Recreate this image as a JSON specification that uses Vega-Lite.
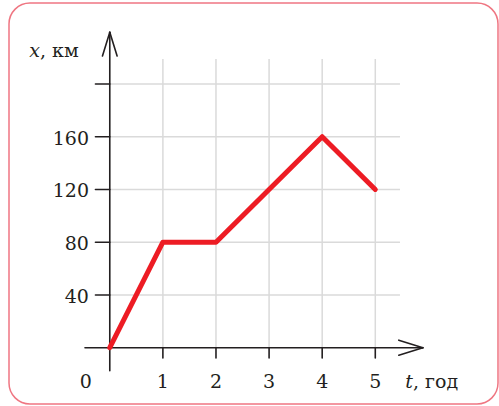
{
  "$schema": "https://vega.github.io/schema/vega-lite/v6.json",
  "width": 499,
  "height": 406,
  "autosize": {"type": "fit", "contains": "padding"},
  "padding": {"left": 9, "top": 3, "right": 1, "bottom": 2},
  "background": "white",
  "config": {
    "view": {"stroke": "#ef7682", "strokeWidth": 1.5, "cornerRadius": 21},
    "axis": {"disable": true},
    "text": {"font": "DejaVu Serif", "fontSize": 19, "color": "#231f20"}
  },
  "datasets": {
    "line": [
      {"t": 0, "v": 0},
      {"t": 1, "v": 80},
      {"t": 2, "v": 80},
      {"t": 3, "v": 120},
      {"t": 4, "v": 160},
      {"t": 5, "v": 120}
    ],
    "seg": [
      {"kind": "grid", "t": 1, "v": 0, "t2": 1, "v2": 219},
      {"kind": "grid", "t": 2, "v": 0, "t2": 2, "v2": 219},
      {"kind": "grid", "t": 3, "v": 0, "t2": 3, "v2": 219},
      {"kind": "grid", "t": 4, "v": 0, "t2": 4, "v2": 219},
      {"kind": "grid", "t": 5, "v": 0, "t2": 5, "v2": 219},
      {"kind": "grid", "t": 0, "v": 40, "t2": 5.465, "v2": 40},
      {"kind": "grid", "t": 0, "v": 80, "t2": 5.465, "v2": 80},
      {"kind": "grid", "t": 0, "v": 120, "t2": 5.465, "v2": 120},
      {"kind": "grid", "t": 0, "v": 160, "t2": 5.465, "v2": 160},
      {"kind": "grid", "t": 0, "v": 200, "t2": 5.465, "v2": 200},
      {"kind": "axis", "t": -0.467, "v": 0, "t2": 5.896, "v2": 0},
      {"kind": "axis", "t": 0, "v": -17.4, "t2": 0, "v2": 239.2},
      {"kind": "axis", "t": 5.443, "v": 5.7, "t2": 5.896, "v2": 0},
      {"kind": "axis", "t": 5.443, "v": -5.7, "t2": 5.896, "v2": 0},
      {"kind": "axis", "t": -0.138, "v": 221.2, "t2": 0, "v2": 239.2},
      {"kind": "axis", "t": 0.138, "v": 221.2, "t2": 0, "v2": 239.2},
      {"kind": "axis", "t": -0.27, "v": 40, "t2": 0, "v2": 40},
      {"kind": "axis", "t": -0.27, "v": 80, "t2": 0, "v2": 80},
      {"kind": "axis", "t": -0.27, "v": 120, "t2": 0, "v2": 120},
      {"kind": "axis", "t": -0.27, "v": 160, "t2": 0, "v2": 160},
      {"kind": "axis", "t": -0.27, "v": 200, "t2": 0, "v2": 200},
      {"kind": "axis", "t": 1, "v": 0, "t2": 1, "v2": -7.8},
      {"kind": "axis", "t": 2, "v": 0, "t2": 2, "v2": -7.8},
      {"kind": "axis", "t": 3, "v": 0, "t2": 3, "v2": -7.8},
      {"kind": "axis", "t": 4, "v": 0, "t2": 4, "v2": -7.8},
      {"kind": "axis", "t": 5, "v": 0, "t2": 5, "v2": -7.8}
    ],
    "ylabels": [
      {"label": "40", "t": -0.392, "v": 40},
      {"label": "80", "t": -0.392, "v": 80},
      {"label": "120", "t": -0.392, "v": 120},
      {"label": "160", "t": -0.392, "v": 160}
    ],
    "xlabels": [
      {"label": "0", "t": -0.45, "v": -30.3},
      {"label": "1", "t": 1, "v": -30.3},
      {"label": "2", "t": 2, "v": -30.3},
      {"label": "3", "t": 3, "v": -30.3},
      {"label": "4", "t": 4, "v": -30.3},
      {"label": "5", "t": 5, "v": -30.3}
    ],
    "vars": [
      {"label": "x", "t": -1.315, "v": 220.4},
      {"label": "t", "t": 5.71, "v": -30.3}
    ],
    "units": [
      {"label": ", км", "t": -1.315, "v": 220.4},
      {"label": ", год", "t": 5.71, "v": -30.3}
    ]
  },
  "encoding": {
    "x": {"field": "t", "type": "quantitative", "scale": {"domain": [-1.898, 7.311], "nice": false, "zero": false}},
    "y": {"field": "v", "type": "quantitative", "scale": {"domain": [-42.7, 261.4], "nice": false, "zero": false}}
  },
  "layer": [
    {
      "data": {"name": "seg"},
      "transform": [{"filter": "datum.kind === 'grid'"}],
      "mark": {"type": "rule", "color": "#dadada", "strokeWidth": 1.5},
      "encoding": {"x2": {"field": "t2"}, "y2": {"field": "v2"}}
    },
    {
      "data": {"name": "seg"},
      "transform": [{"filter": "datum.kind === 'axis'"}],
      "mark": {"type": "rule", "color": "#231f20", "strokeWidth": 1.6, "strokeCap": "round"},
      "encoding": {"x2": {"field": "t2"}, "y2": {"field": "v2"}}
    },
    {
      "data": {"name": "line"},
      "mark": {"type": "line", "color": "#ed1c24", "strokeWidth": 5, "strokeCap": "round", "strokeJoin": "round"},
      "encoding": {"order": {"field": "t"}}
    },
    {
      "data": {"name": "ylabels"},
      "mark": {"type": "text", "align": "right", "baseline": "middle", "dy": 2},
      "encoding": {"text": {"field": "label"}}
    },
    {
      "data": {"name": "xlabels"},
      "mark": {"type": "text", "align": "center", "baseline": "alphabetic"},
      "encoding": {"text": {"field": "label"}}
    },
    {
      "data": {"name": "vars"},
      "mark": {"type": "text", "align": "right", "baseline": "alphabetic", "fontStyle": "italic"},
      "encoding": {"text": {"field": "label"}}
    },
    {
      "data": {"name": "units"},
      "mark": {"type": "text", "align": "left", "baseline": "alphabetic"},
      "encoding": {"text": {"field": "label"}}
    }
  ]
}
